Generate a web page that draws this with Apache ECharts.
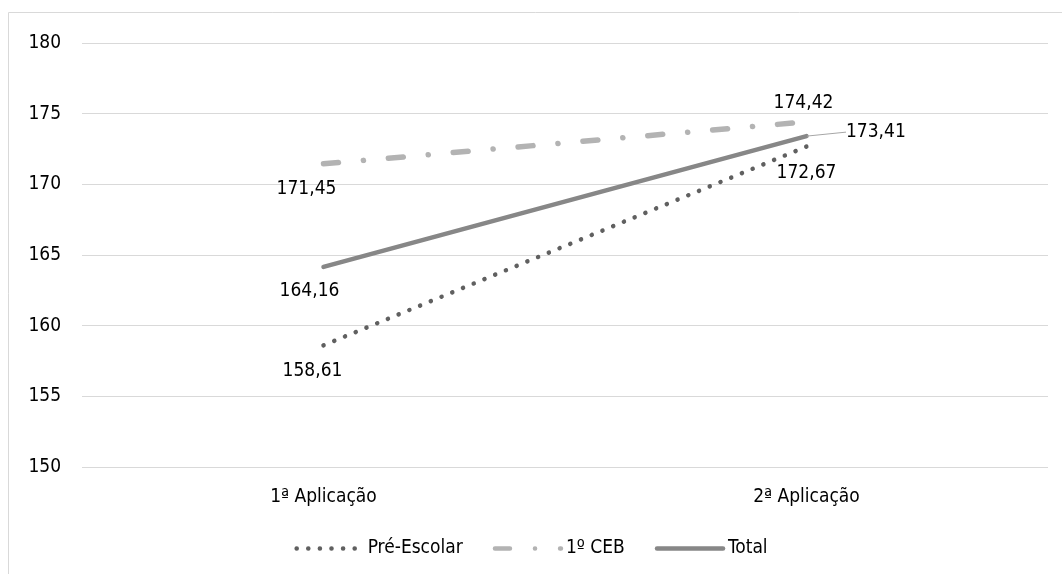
<!DOCTYPE html>
<html>
<head>
<meta charset="utf-8">
<script src="https://cdn.jsdelivr.net/npm/echarts@6/dist/echarts.min.js"></script>
<style>html,body{margin:0;padding:0;background:#fff}#c{width:1062px;height:574px}</style>
</head>
<body>
<div id="c"></div>
<script>
const categories = ['1ª Aplicação', '2ª Aplicação'];
const preEscolar = [158.61, 172.67];
const ceb1 = [171.45, 174.42];
const total = [164.16, 173.41];
const yTicks = {min: 150, max: 180, interval: 5};

const FONT = '"DejaVu Sans Condensed", "Liberation Sans", sans-serif';
const FS = 19;
const fmt = v => v.toFixed(2).replace('.', ',');
const CLEAR = 'rgba(0,0,0,0)';

const chart = echarts.init(document.getElementById('c'), null, {renderer: 'canvas'});
function lbl(pos, ox, oy) {
  return {show: true, position: pos, offset: [ox, oy], color: '#000', fontSize: FS, fontFamily: FONT,
    formatter: p => fmt(p.value)};
}
chart.setOption({
  animation: false,
  textStyle: {fontFamily: FONT},
  graphic: [{type: 'rect', shape: {x: 8.5, y: 12.5, width: 1100, height: 600},
    style: {fill: 'none', stroke: '#d9d9d9', lineWidth: 1}, z: -1}],
  grid: {left: 82, right: 14, top: 43, bottom: 107},
  xAxis: {
    type: 'category', data: categories, boundaryGap: true,
    axisLine: {show: false}, axisTick: {show: false},
    axisLabel: {color: '#000', fontSize: FS, fontFamily: FONT, margin: 21}
  },
  yAxis: {
    type: 'value', min: yTicks.min, max: yTicks.max, interval: yTicks.interval,
    axisLine: {show: false}, axisTick: {show: false},
    axisLabel: {color: '#000', fontSize: FS, fontFamily: FONT, margin: 21},
    splitLine: {lineStyle: {color: '#d9d9d9', width: 1}}
  },
  legend: {
    bottom: 11, left: 'center', itemWidth: 66, itemHeight: 14, itemGap: 30,
    itemStyle: {opacity: 0},
    lineStyle: {width: 4.5, cap: 'round'},
    textStyle: {color: '#000', fontSize: FS, fontFamily: FONT},
    data: ['Pré-Escolar', '1º CEB', 'Total']
  },
  series: [
    {
      name: 'Pré-Escolar', type: 'line', symbol: 'circle', symbolSize: 1, showSymbol: true,
      lineStyle: {color: '#606060', width: 4.5, type: [0.1, 11.5], cap: 'round'},
      itemStyle: {color: CLEAR},
      data: [
        {value: preEscolar[0], label: lbl('bottom', -11, 11)},
        {value: preEscolar[1], label: lbl('bottom', 0, 11)}
      ]
    },
    {
      name: '1º CEB', type: 'line', symbol: 'circle', symbolSize: 1, showSymbol: true,
      lineStyle: {color: '#b3b3b3', width: 5.5, type: [15, 25, 0.1, 25], cap: 'round'},
      itemStyle: {color: CLEAR},
      data: [
        {value: ceb1[0], label: lbl('bottom', -17, 10)},
        {value: ceb1[1], label: lbl('top', -3, -4)}
      ]
    },
    {
      name: 'Total', type: 'line', symbol: 'circle', symbolSize: 1, showSymbol: true,
      lineStyle: {color: '#878787', width: 4.5, cap: 'round'},
      itemStyle: {color: CLEAR},
      labelLine: {show: true, lineStyle: {color: '#a6a6a6', width: 1}},
      labelLayout: p => p.dataIndex === 1 ? {dx: 34, dy: -4} : {dx: -14, dy: 9},
      data: [
        {value: total[0], label: lbl('bottom', 0, 0), labelLine: {show: false}},
        {value: total[1], label: lbl('right', 0, 0)}
      ]
    }
  ]
});
</script>
</body>
</html>
